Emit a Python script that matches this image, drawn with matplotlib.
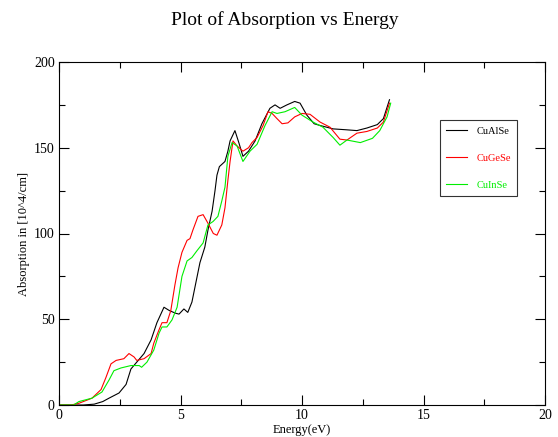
"""Absorption vs Energy plot (xmgrace-style)."""
import matplotlib
matplotlib.use("Agg")
import matplotlib.pyplot as plt
from matplotlib.ticker import MultipleLocator

# CuAlSe
energy_al = [0, 1.0, 1.45, 1.8, 2.06, 2.47, 2.76, 2.96, 3.2, 3.5, 3.79, 4.03, 4.32,
             4.55, 4.8, 4.94, 5.14, 5.3, 5.47, 5.8, 6.0, 6.13, 6.3, 6.42, 6.5, 6.6,
             6.83, 6.95, 7.04, 7.24, 7.4, 7.57, 7.8, 8.07, 8.35, 8.68, 8.89, 9.1,
             9.38, 9.7, 9.92, 10.2, 10.5, 10.74, 11.28, 11.8, 12.26, 12.67, 13.1,
             13.35, 13.6]
absorb_al = [0, 0, 0.5, 2, 4, 7, 12, 21, 25, 30, 38, 48, 57,
             55, 53.5, 53, 56, 54, 60, 83, 92, 102, 113, 125, 134, 139,
             142, 148, 154, 160, 153, 145, 148, 154, 164, 173, 175, 173,
             175, 177, 176, 169, 164, 163, 161, 160.5, 160, 161.5, 163.5,
             167, 178]

# CuGeSe
energy_ge = [0, 0.5, 0.82, 1.36, 1.73, 1.93, 2.14, 2.35, 2.67, 2.88, 3.09, 3.2, 3.5,
             3.79, 3.9, 4.12, 4.24, 4.44, 4.6, 4.77, 4.9, 5.06, 5.27, 5.39, 5.51,
             5.72, 5.93, 6.13, 6.35, 6.5, 6.7, 6.83, 6.95, 7.04, 7.16, 7.33, 7.57,
             7.8, 7.94, 8.15, 8.4, 8.6, 8.77, 8.97, 9.18, 9.42, 9.7, 10.0, 10.33,
             10.74, 11.15, 11.56, 11.85, 12.26, 12.67, 13.1, 13.35, 13.6]
absorb_ge = [0, 0, 1, 4, 9, 16, 24, 26, 27, 30, 28, 26, 27,
             30, 36, 44, 48, 48, 55, 70, 80, 89, 96, 97, 102,
             110, 111, 106, 100, 99, 105, 115, 131, 142, 154, 151, 148,
             150, 153, 156, 163, 171, 170, 167, 164, 164.5, 168, 170, 169.5,
             165, 162, 155, 154.5, 158.5, 159.5, 161.5, 165, 176]

# CuInSe
energy_in = [0, 0.6, 0.82, 1.36, 1.77, 2.06, 2.26, 2.55, 2.96, 3.3, 3.4, 3.62, 3.9,
             4.12, 4.24, 4.44, 4.65, 4.86, 5.06, 5.27, 5.47, 5.68, 5.93, 6.13,
             6.34, 6.54, 6.7, 6.83, 6.95, 7.12, 7.33, 7.57, 7.86, 8.15, 8.48, 8.77,
             8.97, 9.3, 9.7, 10.0, 10.45, 10.86, 11.28, 11.56, 11.85, 12.4, 12.9,
             13.2, 13.5, 13.65]
absorb_in = [0, 0, 2, 4, 7.6, 14.6, 20, 21.6, 23, 23, 22, 25, 32,
             42, 45.5, 45.5, 49.6, 57, 75, 84, 86, 90, 94.5, 105,
             107, 110, 119, 127, 145, 153, 151, 142, 148, 152, 163, 171,
             170, 171, 173.5, 169, 165, 162, 156, 151.5, 154.5, 153, 155.5,
             160, 168, 176]

series = [
    ("CuAlSe", energy_al, absorb_al, "black"),
    ("CuGeSe", energy_ge, absorb_ge, "red"),
    ("CuInSe", energy_in, absorb_in, "#00ee00"),
]

plt.rcParams["font.family"] = ["Liberation Serif", "DejaVu Serif"]

fig = plt.figure(figsize=(5.58, 4.37), dpi=100)
ax = fig.add_axes([59 / 558, 1 - 405 / 437, 486 / 558, 343 / 437])

for name, x, y, c in series:
    ax.plot(x, y, color=c, linewidth=0.8, label=name)

ax.set_xlim(0, 20)
ax.set_ylim(0, 200)
ax.xaxis.set_major_locator(MultipleLocator(5))
ax.xaxis.set_minor_locator(MultipleLocator(2.5))
ax.yaxis.set_major_locator(MultipleLocator(50))
ax.yaxis.set_minor_locator(MultipleLocator(25))
ax.tick_params(which="both", direction="in", top=True, right=True,
               labelsize=10, width=0.8)
ax.tick_params(which="major", length=7, pad=3)
ax.tick_params(which="minor", length=4)
for sp in ax.spines.values():
    sp.set_linewidth(0.8)

ax.set_xlabel("Energy(eV)", fontsize=9, labelpad=1)
ax.set_ylabel("Absorption in [10^4/cm]", fontsize=9, labelpad=3)

fig.text(285 / 558, 1 - 20 / 437, "Plot of Absorption vs Energy",
         ha="center", va="center", fontsize=14)

leg = ax.legend(loc="upper left", bbox_to_anchor=(440 / 558, 1 - 120 / 437),
                bbox_transform=fig.transFigure, fontsize=7.5,
                labelcolor="linecolor", frameon=True, fancybox=False,
                edgecolor="black", handlelength=2.0, handletextpad=0.9,
                borderpad=0.6, labelspacing=1.7, borderaxespad=0)
leg.get_frame().set_linewidth(0.8)

fig.savefig("out.png", dpi=100)
